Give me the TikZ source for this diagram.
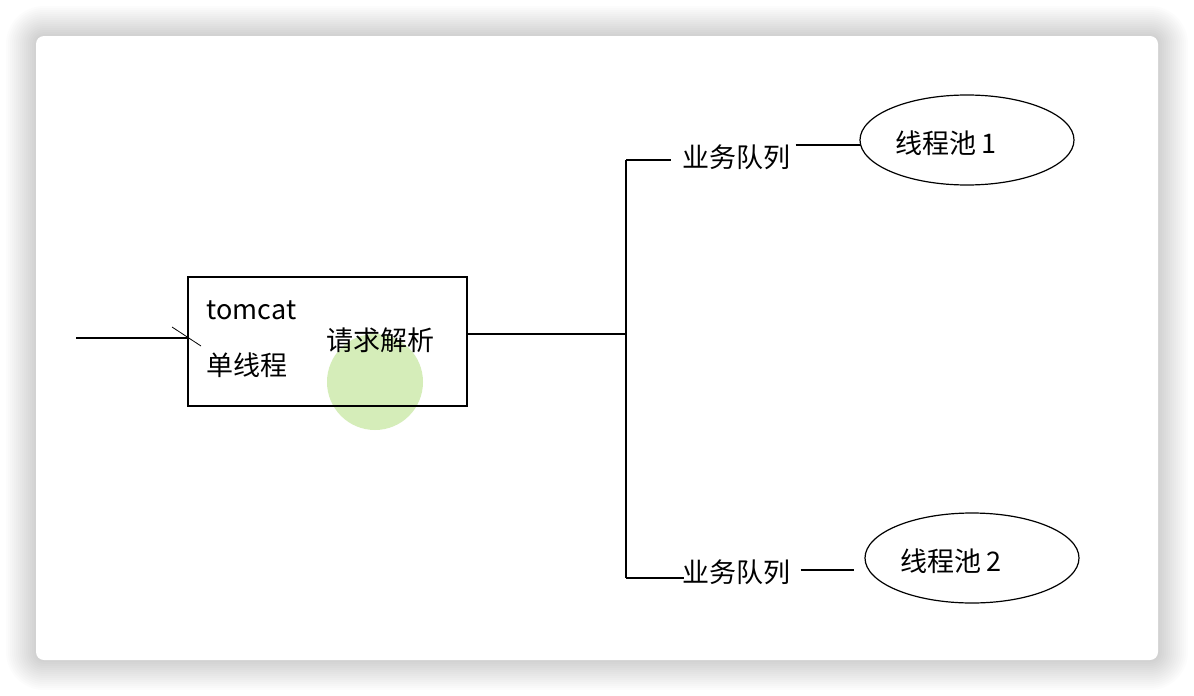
\documentclass[tikz,border=0pt]{standalone}
\usepackage{fontspec}
\setmainfont{Noto Sans CJK SC}
\usetikzlibrary{shapes.geometric}
\definecolor{cursorgreen}{HTML}{D5EDB9}
\begin{document}
\begin{tikzpicture}[x=1pt,y=1pt,line width=1.2pt,font=\fontsize{27}{32}\selectfont]
            \tikzstyle{box node}=[draw,line width=1.5pt,minimum width=279,minimum height=129]
            \tikzstyle{text node}=[inner sep=0pt,anchor=west]
            \tikzstyle{queue node}=[inner sep=5pt]
            \tikzstyle{pool node}=[ellipse,draw,minimum width=214,minimum height=90]

            % frame with its shadow
            \useasboundingbox (0,0) rectangle (1194,-696);
            \fill[white] (0,0) rectangle (1194,-696);
            \foreach \i in {0,2,...,30}
            \fill[black,opacity=0.01,rounded corners=8+\i] (36-\i,-36+\i) rectangle (1158+\i,-660-\i);
            \fill[white,rounded corners=8] (36,-36) rectangle (1158,-660);
            \fill[cursorgreen] (375,-382) circle (48);

            \node(tomcat)[box node] at (327.5,-341.5){};
            \node(tc)[text node] at (206,-310){tomcat};
            \node(single)[text node] at (206,-365){单线程};
            \node(parse)[text node] at (326,-340){请求解析};

            \coordinate(in) at (76,-338);
            \coordinate(tickA) at (172,-327);
            \coordinate(tickB) at (201,-346);
            \draw (in) -- (tomcat.west |- in);
            \draw[line width=0.8pt] (tickA) -- (tickB);

            \coordinate(fork) at (626,-334);
            \coordinate(top) at (626,-160);
            \coordinate(bot) at (626,-578);
            \draw (tomcat.east |- fork) -- (fork);
            \draw (top) -- (bot);

            \node(q1)[queue node] at (736,-157){业务队列};
            \node(q2)[queue node] at (736,-572){业务队列};
            \draw (top) -- ([xshift=-5pt]q1.west |- top);
            \draw (bot) -- ([xshift=8pt]q2.west |- bot);

            \node(p1)[pool node] at (967,-140){};
            \node(p1t)[text node] at (895,-143){线程池\,1};
            \node(p2)[pool node] at (972,-558){};
            \node(p2t)[text node] at (900,-561){线程池\,2};
            \draw ([yshift=12pt]q1.east) -- ([xshift=2pt,yshift=-5pt]p1.west);
            \draw ([xshift=5pt,yshift=2pt]q2.east) -- ([xshift=-10pt,yshift=-12pt]p2.west);
        \end{tikzpicture}
\end{document}
